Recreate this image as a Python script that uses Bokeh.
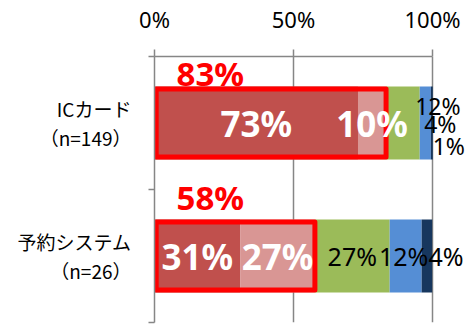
from bokeh.plotting import figure
from bokeh.models import Range1d, FixedTicker, ColumnDataSource, PrintfTickFormatter
from bokeh.core.properties import value
from bokeh.embed import file_html
from bokeh.resources import INLINE

# ---- data (percent of respondents) ----
categories = ["ICカード\n（n=149）", "予約システム\n（n=26）"]
segments = ["s1", "s2", "s3", "s4", "s5"]
ic_values = [73.2, 10.1, 12.1, 4.0, 0.7]
rs_values = [30.8, 26.9, 26.9, 11.5, 3.8]
x_ticks = [0, 50, 100]

# ---- styles ----
colors = ["#C0504D", "#D99694", "#9BBB59", "#558ED5", "#17375E"]
num_font = "Noto Sans"
cjk_font = "Noto Sans CJK JP"
grey = "#868686"
bar_h = 0.55
# label pixel offsets for small segments (x, y) per category
small_offsets = [
    [(35, -17), (15, 1), (17, 23)],
    [(0, 0), (-2, 0), (19, 0)],
]
small_sizes = ["23px", "25px"]
total_offsets_y = [-0.37, -0.44]

ycat = [0.5, 1.5]
rows = [ic_values, rs_values]

p = figure(width=471, height=325,
           x_range=Range1d(0, 114.03), y_range=Range1d(2, 0),
           x_axis_location="above",
           output_backend="svg", toolbar_location=None,
           min_border_left=154, min_border_right=0,
           min_border_top=55, min_border_bottom=3)
p.outline_line_color = None
p.background_fill_color = "white"

# grid
p.ygrid.visible = False
p.xgrid.ticker = FixedTicker(ticks=[50, 100])
p.xgrid.grid_line_color = grey
p.xgrid.grid_line_width = 1.5

# top axis
xa = p.xaxis[0]
xa.ticker = FixedTicker(ticks=x_ticks)
xa.bounds = (0, 100)
xa.formatter = PrintfTickFormatter(format="%d%%")
xa.axis_line_color = grey
xa.axis_line_width = 1.5
xa.major_tick_line_color = grey
xa.major_tick_line_width = 1.5
xa.major_tick_out = 7
xa.major_tick_in = 0
xa.minor_tick_line_color = None
xa.major_label_text_font = num_font
xa.major_label_text_font_size = "22px"
xa.major_label_text_color = "black"
xa.major_label_standoff = 16

# left axis
ya = p.yaxis[0]
ya.ticker = FixedTicker(ticks=ycat, minor_ticks=[0, 1, 2])
ya.major_label_overrides = {ycat[i]: categories[i] for i in range(2)}
ya.axis_line_color = grey
ya.axis_line_width = 1.5
ya.major_tick_out = 0
ya.major_tick_in = 0
ya.minor_tick_out = 6
ya.minor_tick_in = 0
ya.minor_tick_line_color = grey
ya.minor_tick_line_width = 1.5
ya.major_label_text_font = cjk_font
ya.major_label_text_font_size = "19px"
ya.major_label_text_color = "black"
ya.major_label_text_line_height = 1.05
ya.major_label_standoff = 17

# stacked bars
for j in range(len(segments)):
    lefts = [sum(r[:j]) for r in rows]
    rights = [sum(r[:j + 1]) for r in rows]
    src = ColumnDataSource(dict(y=ycat, left=lefts, right=rights))
    p.hbar(y="y", left="left", right="right", height=bar_h, source=src,
           fill_color=colors[j], line_color=None)

# red outline around first two segments
totals = [r[0] + r[1] for r in rows]
osrc = ColumnDataSource(dict(y=ycat, right=totals))
p.hbar(y="y", left=0.6, right="right", height=bar_h - 0.04, source=osrc,
       fill_color=None, line_color="#FF0000", line_width=5, line_join="round")

# white bold labels for first two segments
wx, wy, wt = [], [], []
for i, r in enumerate(rows):
    for j in range(2):
        wx.append(sum(r[:j]) + r[j] / 2)
        wy.append(ycat[i])
        wt.append(f"{int(r[j] + 0.5)}%")
p.text(x=wx, y=wy, text=wt, text_color="white", text_font=value(num_font),
       text_font_style="bold", text_font_size="35px",
       text_align="center", text_baseline="middle")

# black labels for remaining segments
for i, r in enumerate(rows):
    bx, by, bt, xo, yo = [], [], [], [], []
    for k, j in enumerate(range(2, 5)):
        bx.append(sum(r[:j]) + r[j] / 2)
        by.append(ycat[i])
        bt.append(f"{int(r[j] + 0.5)}%")
        xo.append(small_offsets[i][k][0])
        yo.append(small_offsets[i][k][1])
    s = ColumnDataSource(dict(x=bx, y=by, t=bt, xo=xo, yo=yo))
    p.text(x="x", y="y", text="t", x_offset="xo", y_offset="yo", source=s,
           text_color="black", text_font=value(num_font),
           text_font_size=small_sizes[i],
           text_align="center", text_baseline="middle")

# red totals above bars
tsrc = ColumnDataSource(dict(
    x=[0, 0],
    y=[ycat[i] + total_offsets_y[i] for i in range(2)],
    t=[f"{int(t + 0.5)}%" for t in totals]))
p.text(x="x", y="y", text="t", source=tsrc, x_offset=22,
       text_color="#FF0000", text_font=value(num_font), text_font_style="bold",
       text_font_size="33px", text_align="left", text_baseline="middle")

open("out.html", "w").write(file_html(p, INLINE))
